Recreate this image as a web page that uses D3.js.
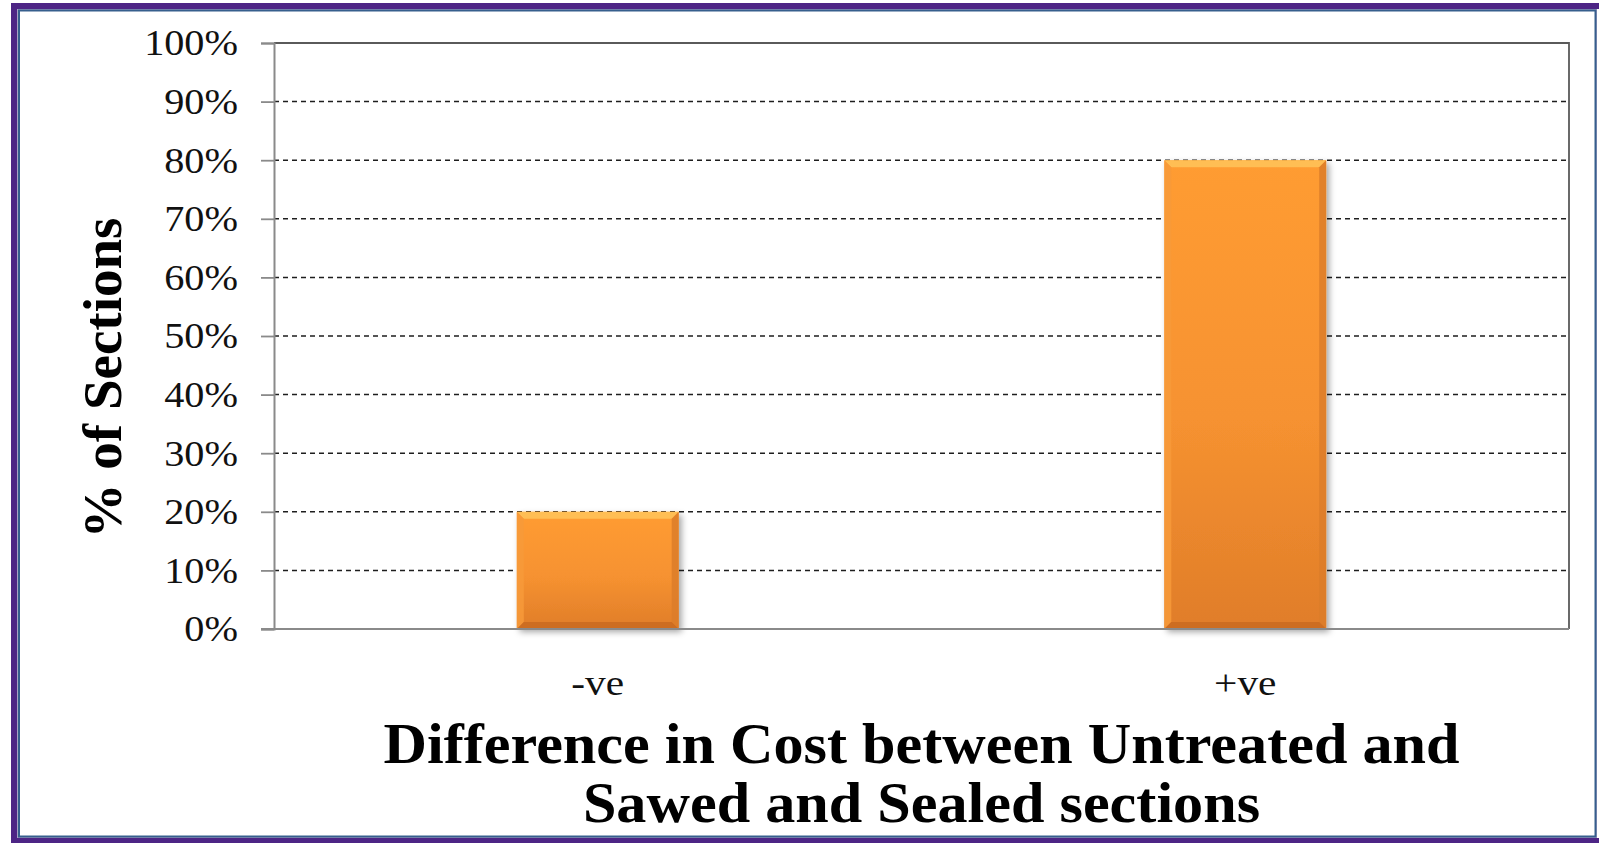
<!DOCTYPE html>
<html>
<head>
<meta charset="utf-8">
<script src="https://cdn.jsdelivr.net/npm/d3@7/dist/d3.min.js"></script>
<style>
  html, body { margin: 0; padding: 0; background: #fff; }
  svg { display: block; }
</style>
</head>
<body>
<svg id="chart" width="1599" height="843"></svg>
<script>
// Share of sections by sign of the cost difference
const categories = ["-ve", "+ve"];
const shares = [0.20, 0.80];
const tickValues = [0, 0.1, 0.2, 0.3, 0.4, 0.5, 0.6, 0.7, 0.8, 0.9, 1.0];
const yTitle = "% of Sections";
const xTitleLines = ["Difference in Cost between Untreated and", "Sawed and Sealed sections"];

const svg = d3.select("#chart");
const W = 1599, H = 843;
const serif = "'Liberation Serif', 'Times New Roman', serif";
const stretch = 1.15;      // horizontal widening of the axis lettering
const titleStretch = 1.075; // horizontal widening of the bold x title

// Frame around the whole chart
svg.append("rect").attr("x", 11).attr("y", 3).attr("width", W).attr("height", H)
  .attr("fill", "#4d2585");
svg.append("rect").attr("x", 17).attr("y", 9).attr("width", W - 17).attr("height", 829)
  .attr("fill", "#ffffff");
svg.append("rect").attr("x", 17.5).attr("y", 9.5).attr("width", 1579).attr("height", 828)
  .attr("fill", "none").attr("stroke", "#a8a2c4").attr("stroke-width", 1);
svg.append("rect").attr("x", 19).attr("y", 10.5).attr("width", 1576.5).attr("height", 826)
  .attr("fill", "none").attr("stroke", "#365f8d").attr("stroke-width", 2);

// Plot area
const plot = { left: 274, right: 1569, top: 43, bottom: 629 };

const x = d3.scaleBand()
  .domain(categories)
  .range([plot.left, plot.right])
  .paddingInner(0.75)
  .paddingOuter(0.375);

const y = d3.scaleLinear()
  .domain([0, 1])
  .range([plot.bottom, plot.top]);

const defs = svg.append("defs");
const grad = defs.append("linearGradient").attr("id", "barFill")
  .attr("x1", 0).attr("y1", 0).attr("x2", 0).attr("y2", 1);
grad.append("stop").attr("offset", "0%").attr("stop-color", "#ff9c33");
grad.append("stop").attr("offset", "55%").attr("stop-color", "#f69230");
grad.append("stop").attr("offset", "100%").attr("stop-color", "#e07d2a");

const shadow = defs.append("filter").attr("id", "barShadow")
  .attr("x", "-10%").attr("y", "-10%").attr("width", "130%").attr("height", "130%");
shadow.append("feDropShadow").attr("dx", 3).attr("dy", 3)
  .attr("stdDeviation", 3).attr("flood-color", "#000").attr("flood-opacity", 0.35);

// Horizontal dashed gridlines (skip 0% which is the axis)
svg.append("g")
  .selectAll("line")
  .data(tickValues.filter(v => v > 0 && v < 1))
  .join("line")
  .attr("x1", plot.left).attr("x2", plot.right)
  .attr("y1", d => y(d)).attr("y2", d => y(d))
  .attr("stroke", "#1e1e1e").attr("stroke-width", 1.5)
  .attr("stroke-dasharray", "5,4");

// Top and right border of the plot area
svg.append("path")
  .attr("d", `M${plot.left},${y(1)}H${plot.right}V${y(0)}`)
  .attr("fill", "none").attr("stroke", "#5a5a5a").attr("stroke-width", 1.8);

// Bars with a bevelled edge
const bev = 7;
const bars = svg.append("g").selectAll("g")
  .data(categories.map((c, i) => ({ cat: c, v: shares[i] })))
  .join("g");

bars.append("rect")
  .attr("x", d => x(d.cat)).attr("y", d => y(d.v))
  .attr("width", x.bandwidth()).attr("height", d => y(0) - y(d.v))
  .attr("fill", "url(#barFill)")
  .attr("filter", "url(#barShadow)");

function bevelPaths(d) {
  const x0 = x(d.cat), x1 = x(d.cat) + x.bandwidth();
  const y0 = y(d.v), y1 = y(0);
  return [
    { pts: [[x0, y0], [x1, y0], [x1 - bev, y0 + bev], [x0 + bev, y0 + bev]], fill: "#ffc45a" },
    { pts: [[x0, y0], [x0 + bev, y0 + bev], [x0 + bev, y1 - bev], [x0, y1]], fill: "#f79a3a" },
    { pts: [[x1, y0], [x1, y1], [x1 - bev, y1 - bev], [x1 - bev, y0 + bev]], fill: "#dc7c29" },
    { pts: [[x0, y1], [x0 + bev, y1 - bev], [x1 - bev, y1 - bev], [x1, y1]], fill: "#c96a20" }
  ];
}
bars.selectAll("polygon")
  .data(d => bevelPaths(d))
  .join("polygon")
  .attr("points", p => p.pts.map(q => q.join(",")).join(" "))
  .attr("fill", p => p.fill)
  .attr("opacity", 0.85);

// Y axis
const yAxis = svg.append("g")
  .attr("transform", `translate(${plot.left},0)`)
  .call(d3.axisLeft(y).tickValues(tickValues).tickFormat(d3.format(".0%"))
    .tickSize(13).tickPadding(23));
yAxis.select(".domain").attr("stroke", "#8a8a8a").attr("stroke-width", 2);
yAxis.selectAll(".tick line").attr("stroke", "#8a8a8a").attr("stroke-width", 1.8);
yAxis.selectAll(".tick text")
  .attr("font-family", serif).attr("font-size", 35).attr("fill", "#111")
  .attr("x", -36 / stretch)
  .attr("dy", "0.34em")
  .attr("transform", `scale(${stretch},1)`);

// X axis baseline
svg.append("line")
  .attr("x1", plot.left - 13).attr("x2", plot.right)
  .attr("y1", y(0)).attr("y2", y(0))
  .attr("stroke", "#8a8a8a").attr("stroke-width", 2);

// Category labels
svg.append("g").selectAll("text")
  .data(categories)
  .join("text")
  .attr("transform", d => `translate(${x(d) + x.bandwidth() / 2},695) scale(${stretch},1)`)
  .attr("text-anchor", "middle")
  .attr("font-family", serif).attr("font-size", 36).attr("fill", "#111")
  .text(d => d);

// Y axis title
svg.append("text")
  .attr("transform", `translate(121,378) rotate(-90)`)
  .attr("text-anchor", "middle")
  .attr("font-family", serif).attr("font-weight", "bold").attr("font-size", 55)
  .attr("fill", "#000")
  .text(yTitle);

// X axis title (two lines)
const cx = (plot.left + plot.right) / 2;
svg.append("g").selectAll("text")
  .data(xTitleLines)
  .join("text")
  .attr("transform", (d, i) => `translate(${cx},${763 + i * 59}) scale(${titleStretch},1)`)
  .attr("text-anchor", "middle")
  .attr("font-family", serif).attr("font-weight", "bold").attr("font-size", 56)
  .attr("fill", "#000")
  .text(d => d);
</script>
</body>
</html>
